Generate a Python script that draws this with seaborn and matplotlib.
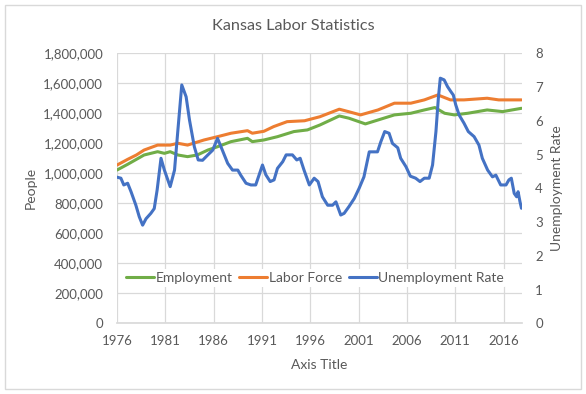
import matplotlib
matplotlib.use("Agg")
import matplotlib.pyplot as plt
import matplotlib.ticker as mticker
from matplotlib.patches import Rectangle
import seaborn as sns

# values (decimal years)
emp_years = [1976.0, 1977.1, 1978.8, 1980.2, 1980.9, 1981.5, 1982.3, 1983.3, 1984.3,
             1985.4, 1986.4, 1987.8, 1989.5, 1990.0, 1991.2, 1992.6, 1994.3, 1995.7,
             1997.0, 1999.0, 2000.0, 2001.7, 2003.0, 2004.7, 2006.4, 2007.8, 2008.9,
             2009.9, 2010.9, 2012.3, 2014.3, 2015.9, 2017.85]
employment = [1022000, 1060000, 1122000, 1144000, 1133000, 1144000, 1122000, 1111000, 1122000,
              1155000, 1177000, 1211000, 1233000, 1211000, 1222000, 1244000, 1278000, 1289000,
              1322000, 1382000, 1367000, 1329000, 1355000, 1389000, 1400000, 1422000, 1438000,
              1400000, 1389000, 1400000, 1422000, 1411000, 1433000]

lf_years = [1976.0, 1977.1, 1978.0, 1978.8, 1980.2, 1981.5, 1982.3, 1983.3, 1985.0,
            1985.7, 1986.4, 1987.8, 1989.5, 1990.0, 1991.2, 1992.2, 1993.6, 1995.4,
            1997.0, 1999.0, 2000.0, 2001.2, 2003.0, 2004.7, 2006.4, 2007.8, 2009.2,
            2010.5, 2011.9, 2014.3, 2015.5, 2017.85]
labor_force = [1055000, 1093000, 1122000, 1155000, 1188000, 1188000, 1200000, 1188000, 1222000,
               1233000, 1244000, 1267000, 1284000, 1267000, 1280000, 1311000, 1344000, 1350000,
               1377000, 1427000, 1410000, 1389000, 1422000, 1467000, 1467000, 1489000, 1522000,
               1489000, 1489000, 1500000, 1489000, 1489000]

ur_years = [1976.0, 1976.4, 1976.7, 1977.1, 1977.45, 1977.95, 1978.3, 1978.65, 1979.0, 1979.5,
            1979.85, 1980.15, 1980.55, 1980.9, 1981.5, 1981.95, 1982.3, 1982.7, 1983.15, 1983.5,
            1984.0, 1984.4, 1984.85, 1985.4, 1985.9, 1986.4, 1986.9, 1987.45, 1987.95, 1988.5,
            1988.8, 1989.35, 1989.85, 1990.35, 1991.05, 1991.4, 1991.85, 1992.25, 1992.6, 1993.15,
            1993.5, 1994.15, 1994.6, 1994.95, 1995.35, 1995.9, 1996.4, 1996.8, 1997.25, 1997.8,
            1998.3, 1998.65, 1999.15, 1999.5, 2000.0, 2000.55, 2001.05, 2001.55, 2002.1, 2002.95,
            2003.3, 2003.7, 2004.15, 2004.5, 2005.05, 2005.35, 2005.9, 2006.35, 2006.9, 2007.35,
            2007.8, 2008.3, 2008.65, 2009.0, 2009.25, 2009.45, 2009.85, 2010.2, 2010.55, 2010.8,
            2011.05, 2011.4, 2011.9, 2012.35, 2012.95, 2013.45, 2013.8, 2014.35, 2014.85, 2015.2,
            2015.7, 2016.25, 2016.55, 2016.8, 2017.1, 2017.35, 2017.5, 2017.7, 2017.85]
unemployment = [4.33, 4.3, 4.1, 4.15, 3.9, 3.5, 3.16, 2.91, 3.1, 3.26,
                3.4, 3.95, 4.89, 4.54, 4.05, 4.54, 5.73, 7.06, 6.71, 6.02,
                5.23, 4.84, 4.83, 4.99, 5.13, 5.48, 5.13, 4.74, 4.54, 4.54,
                4.39, 4.15, 4.1, 4.1, 4.69, 4.4, 4.2, 4.25, 4.59, 4.79,
                4.99, 4.99, 4.84, 4.89, 4.54, 4.1, 4.3, 4.2, 3.75, 3.5,
                3.5, 3.6, 3.21, 3.26, 3.46, 3.7, 4.0, 4.34, 5.08, 5.08,
                5.38, 5.68, 5.63, 5.33, 5.2, 4.89, 4.64, 4.36, 4.3, 4.2,
                4.3, 4.3, 4.69, 5.68, 6.67, 7.26, 7.21, 7.01, 6.86, 6.76,
                6.47, 6.17, 5.93, 5.68, 5.53, 5.28, 4.89, 4.54, 4.34, 4.39,
                4.1, 4.1, 4.25, 4.3, 3.85, 3.75, 3.9, 3.6, 3.41]

year_ticks = [1976, 1981, 1986, 1991, 1996, 2001, 2006, 2011, 2016]

sns.set_theme(style="white")
plt.rcParams['font.family'] = ['Lato', 'DejaVu Sans']

GREEN = "#70AD47"
ORANGE = "#ED7D31"
BLUE = "#4472C4"
GRAY = "#595959"
GRID = "#D9D9D9"

fig = plt.figure(figsize=(5.86, 3.94), dpi=100)
fig.patches.append(Rectangle((0.009, 0.013), 0.982, 0.975, transform=fig.transFigure,
                             fill=False, edgecolor=GRID, linewidth=1))
ax = fig.add_axes([0.1997, 0.179, 0.6910, 0.686])
ax2 = ax.twinx()

sns.lineplot(x=emp_years, y=employment, ax=ax, color=GREEN, linewidth=2.2, label="Employment", legend=False)
sns.lineplot(x=lf_years, y=labor_force, ax=ax, color=ORANGE, linewidth=2.2, label="Labor Force", legend=False)
sns.lineplot(x=ur_years, y=unemployment, ax=ax2, color=BLUE, linewidth=2.2, label="Unemployment Rate", legend=False)

ax.set_xlim(1976, 2017.9)
ax.set_ylim(0, 1800000)
ax2.set_ylim(0, 8)
ax.set_xticks(year_ticks)
ax.set_yticks(range(0, 1800001, 200000))
ax2.set_yticks(range(0, 9))
ax.yaxis.set_major_formatter(mticker.FuncFormatter(lambda v, p: f"{int(v):,}"))

ax.grid(True, color=GRID, linewidth=0.9)
ax.set_axisbelow(True)
for a in (ax, ax2):
    for s in ("top", "left", "right"):
        a.spines[s].set_visible(False)
    a.spines["bottom"].set_color(GRID)
ax2.spines["bottom"].set_visible(False)

ax.tick_params(axis="x", colors=GRAY, labelsize=9.5, length=4, color=GRID, direction="out", pad=4)
ax.tick_params(axis="y", colors=GRAY, labelsize=9.5, length=0, pad=10)
ax2.tick_params(axis="y", colors=GRAY, labelsize=9.5, length=0, pad=9.5)

ax.set_xlabel("Axis Title", color=GRAY, fontsize=10, labelpad=9)
ax.set_ylabel("People", color=GRAY, fontsize=10, labelpad=5)
ax2.set_ylabel("Unemployment Rate", color=GRAY, fontsize=10, labelpad=6)
fig.text(0.5, 0.935, "Kansas Labor Statistics", color=GRAY, fontsize=11.7, ha="center", va="center")

h1, l1 = ax.get_legend_handles_labels()
h2, l2 = ax2.get_legend_handles_labels()
leg = ax2.legend(h1 + h2, l1 + l2, ncol=3, loc="center", bbox_to_anchor=(0.489, 0.168),
                 frameon=True, facecolor="white", edgecolor="none", framealpha=1,
                 fontsize=10, handlelength=2.0, handletextpad=0.1, columnspacing=0.5,
                 borderpad=0.2)
for t in leg.get_texts():
    t.set_color(GRAY)

fig.savefig("out.png", dpi=100)
